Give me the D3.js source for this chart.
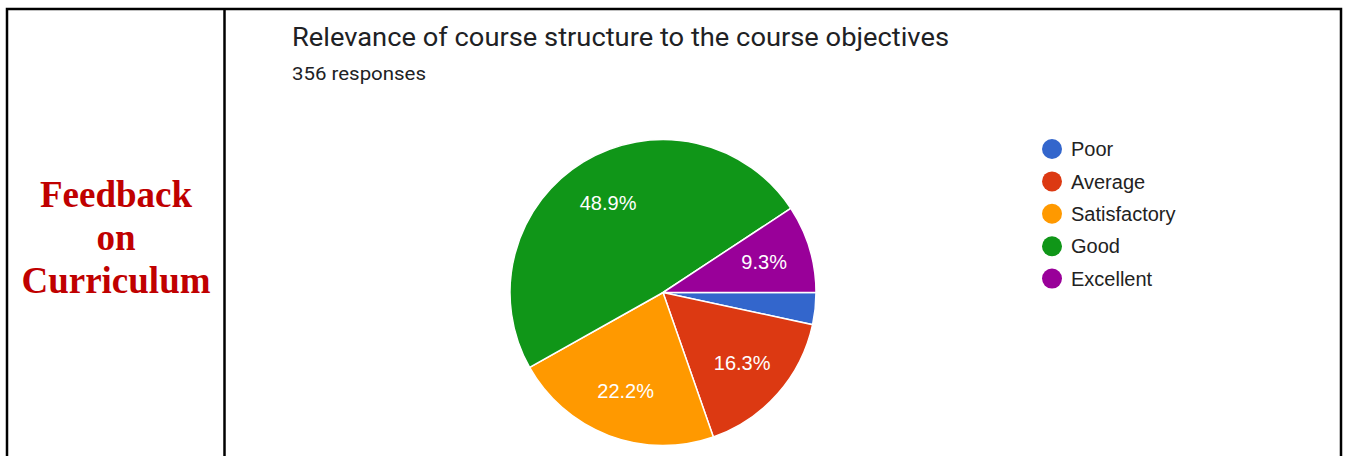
<!DOCTYPE html>
<html>
<head>
<meta charset="utf-8">
<script src="https://cdn.jsdelivr.net/npm/d3@7"></script>
<style>
  html, body { margin: 0; padding: 0; background: #fff; }
</style>
</head>
<body>
<div id="chart"></div>
<script>
// --- Data ---
const categories = ["Poor", "Average", "Satisfactory", "Good", "Excellent"];
const counts = [12, 58, 79, 174, 33];
const colors = ["#3366cc", "#dc3912", "#ff9900", "#109618", "#990099"];
const sideLabel = ["Feedback", "on", "Curriculum"];
const title = "Relevance of course structure to the course objectives";
const subtitle = "356 responses";

const width = 1347;
const height = 456;

const svg = d3.select("#chart")
  .append("svg")
  .attr("width", width)
  .attr("height", height);

// --- Table borders ---
const border = svg.append("g")
  .attr("stroke", "#000")
  .attr("stroke-width", 2.5)
  .attr("fill", "none");
border.append("path").attr("d", "M7,470 V9 H1341 V470");
border.append("line").attr("x1", 224.5).attr("x2", 224.5).attr("y1", 9).attr("y2", 470);

// --- Side label ---
svg.append("g")
  .selectAll("text")
  .data(sideLabel)
  .enter()
  .append("text")
  .attr("x", 116)
  .attr("y", (d, i) => 207 + i * 43)
  .attr("text-anchor", "middle")
  .attr("font-family", "'Liberation Serif', 'Times New Roman', serif")
  .attr("font-weight", "bold")
  .attr("font-size", "37px")
  .attr("fill", "#c00000")
  .text(d => d);

// --- Title (source text is slightly wide, so stretch to its length) ---
svg.append("text")
  .attr("x", 292)
  .attr("y", 46)
  .attr("font-family", "Roboto, Arial, sans-serif")
  .attr("font-size", "25px")
  .attr("textLength", 657)
  .attr("lengthAdjust", "spacingAndGlyphs")
  .attr("fill", "#202124")
  .text(title);

svg.append("text")
  .attr("x", 292)
  .attr("y", 80)
  .attr("font-family", "Roboto, Arial, sans-serif")
  .attr("font-size", "18px")
  .attr("textLength", 134)
  .attr("lengthAdjust", "spacingAndGlyphs")
  .attr("fill", "#202124")
  .text(subtitle);

// --- Pie ---
const cx = 663, cy = 292.5, r = 153;
const total = d3.sum(counts);
const pie = d3.pie()
  .sort(null)
  .startAngle(Math.PI / 2)
  .endAngle(Math.PI / 2 + 2 * Math.PI);
const arcs = pie(counts);
const arc = d3.arc().innerRadius(0).outerRadius(r);
const labelArc = d3.arc().innerRadius(r * 0.69).outerRadius(r * 0.69);

const g = svg.append("g").attr("transform", `translate(${cx},${cy})`);

g.selectAll("path")
  .data(arcs)
  .enter()
  .append("path")
  .attr("d", arc)
  .attr("fill", (d, i) => colors[i])
  .attr("stroke", "#fff")
  .attr("stroke-width", 1.5);

g.selectAll("text")
  .data(arcs.filter(d => d.value / total > 0.05))
  .enter()
  .append("text")
  .attr("transform", d => `translate(${labelArc.centroid(d)})`)
  .attr("text-anchor", "middle")
  .attr("dy", "0.36em")
  .attr("font-family", "Arial, 'Liberation Sans', sans-serif")
  .attr("font-size", "20px")
  .attr("fill", "#fff")
  .text(d => (d.value / total * 100).toFixed(1) + "%");

// --- Legend ---
const legend = svg.append("g")
  .selectAll("g")
  .data(categories)
  .enter()
  .append("g")
  .attr("transform", (d, i) => `translate(1052,${149 + i * 32.4})`);

legend.append("circle")
  .attr("r", 10)
  .attr("fill", (d, i) => colors[i]);

legend.append("text")
  .attr("x", 19)
  .attr("dy", "0.36em")
  .attr("font-family", "Arial, 'Liberation Sans', sans-serif")
  .attr("font-size", "20px")
  .attr("fill", "#222")
  .text(d => d);
</script>
</body>
</html>
